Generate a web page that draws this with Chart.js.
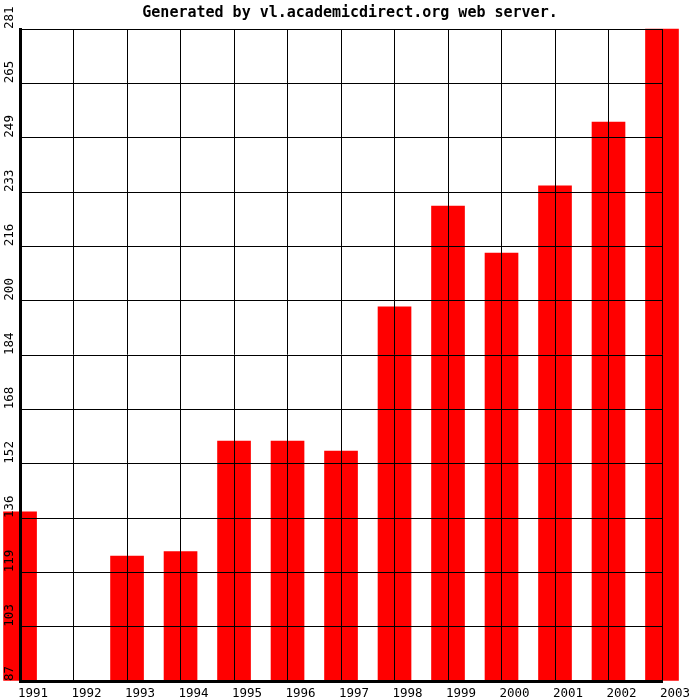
<!DOCTYPE html>
<html>
<head>
<meta charset="utf-8">
<script src="https://cdn.jsdelivr.net/npm/chart.js@4/dist/chart.umd.min.js"></script>
<style>
  html, body { margin: 0; padding: 0; background: #fff; }
  #wrap { width: 700px; height: 700px; }
</style>
</head>
<body>
<div id="wrap"><canvas id="c" width="700" height="700"></canvas></div>
<script>
const titleText = 'Generated by vl.academicdirect.org web server.';
const years = ['1991','1992','1993','1994','1995','1996','1997','1998','1999','2000','2001','2002','2003'];
const values = [137.3, null, 124.2, 125.5, 158.4, 158.4, 155.4, 198.3, 228.3, 214.3, 234.3, 253.3, 281];
const yTickLabels = ['87','103','119','136','152','168','184','200','216','233','249','265','281'];
const yMin = 87;
const yMax = 281;

const MONO = '"DejaVu Sans Mono", "Liberation Mono", monospace';

const yLabelPlugin = {
  id: 'yLabels',
  afterDraw(chart) {
    const s = chart.scales.y;
    const ctx = chart.ctx;
    ctx.save();
    ctx.fillStyle = '#000';
    ctx.font = '12.5px ' + MONO;
    ctx.textAlign = 'left';
    ctx.textBaseline = 'alphabetic';
    s.ticks.forEach((t, i) => {
      const py = s.getPixelForValue(t.value);
      ctx.save();
      ctx.translate(13, py);
      ctx.rotate(-Math.PI / 2);
      ctx.fillText(yTickLabels[i], 0, 0);
      ctx.restore();
    });
    ctx.restore();
  }
};

new Chart(document.getElementById('c'), {
  type: 'bar',
  data: {
    labels: years,
    datasets: [{
      data: values,
      backgroundColor: '#ff0000',
      borderWidth: 0,
      barThickness: 33,
      base: yMin,
      clip: false
    }]
  },
  options: {
    responsive: false,
    animation: false,
    layout: { padding: 0 },
    plugins: {
      legend: { display: false },
      tooltip: { enabled: false },
      title: {
        display: true,
        text: titleText,
        color: '#000',
        font: { family: MONO, size: 15, weight: 'bold' },
        padding: { top: 4, bottom: 7 }
      }
    },
    scales: {
      x: {
        type: 'category',
        offset: false,
        grid: { color: '#000', lineWidth: 1, drawTicks: false, offset: false, z: 1 },
        border: { color: '#000', width: 3, z: 2 },
        ticks: {
          color: '#000',
          font: { family: MONO, size: 12.5 },
          padding: 5,
          labelOffset: 13,
          maxRotation: 0,
          minRotation: 0,
          autoSkip: false,
          z: 3
        },
        afterFit(s) { s.height = 19; }
      },
      y: {
        min: yMin,
        max: yMax,
        grid: { color: '#000', lineWidth: 1, drawTicks: false, z: 1 },
        border: { color: '#000', width: 3, z: 2 },
        ticks: { display: false },
        afterBuildTicks(s) {
          const n = yTickLabels.length - 1;
          s.ticks = yTickLabels.map((_, i) => ({ value: yMin + i * (yMax - yMin) / n }));
        },
        afterFit(s) { s.width = 19; }
      },
      yRight: {
        type: 'linear',
        position: 'right',
        min: yMin,
        max: yMax,
        grid: { display: false, drawTicks: false },
        border: { display: false },
        ticks: { display: false },
        afterFit(s) { s.width = 38; }
      }
    }
  },
  plugins: [yLabelPlugin]
});
</script>
</body>
</html>
